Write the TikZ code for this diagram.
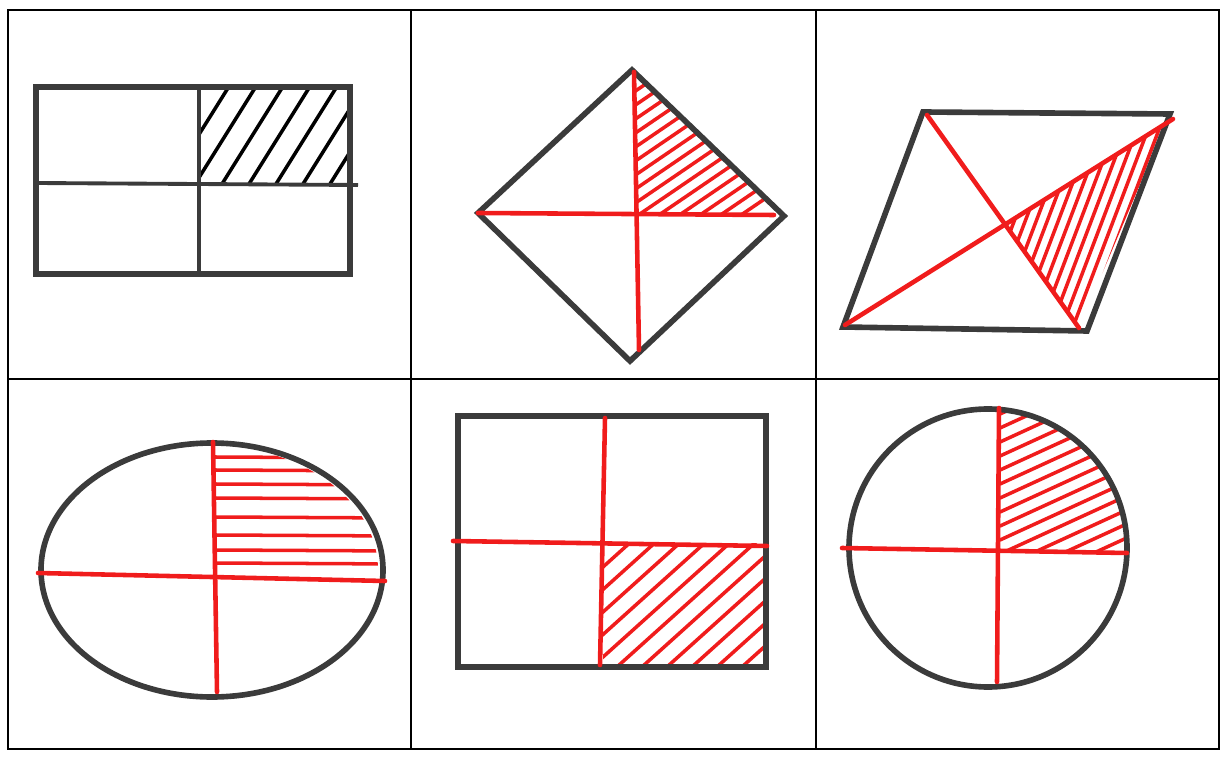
\documentclass[tikz,border=0pt]{standalone}
\usepackage{xcolor}
\definecolor{ink}{HTML}{3b3b3b}
\definecolor{pen}{HTML}{f01c1c}
\usepackage{tikz}
\usetikzlibrary{calc}

\begin{document}
\begin{tikzpicture}[
  x=0.1mm, y=-0.1mm,
  frame/.style={draw=black, line width=0.6pt},
  outline/.style={draw=ink, line width=1.6pt, line join=miter},
  divider/.style={draw=ink, line width=1.1pt},
  redline/.style={draw=pen, line width=1.3pt, line cap=round},
  hatchk/.style={draw=black, line width=1pt, line cap=round},
  hatchr/.style={draw=pen, line width=1pt, line cap=round},
]
  \useasboundingbox (0,0) rectangle (1223,759);

  % table
  \draw[frame] (8,10) rectangle (1219,749);
  \draw[frame] (411,10) -- (411,749);
  \draw[frame] (816,10) -- (816,749);
  \draw[frame] (8,379) -- (1219,379);

  % rectangle, top right quarter
  \begin{scope}
    \clip (199,87) rectangle (350,184);
    \foreach \a in {168,195,...,340}
      \draw[hatchk] (\a,184) -- ++(160,-256);
  \end{scope}
  \draw[outline] (36,87) rectangle (350,274);
  \draw[divider] (199,87) -- (199,274);
  \draw[divider] (36,183) -- (358,185);

  % diamond
  \coordinate (dt) at (632,70);
  \coordinate (dr) at (784,216);
  \coordinate (db) at (630,361);
  \coordinate (dl) at (478,213);
  \begin{scope}
    \clip (634,70) -- (dr) -- (634,216) -- cycle;
    \foreach \y in {92,106,...,290}
      \draw[hatchr] (634,\y) -- ++(220,-150);
  \end{scope}
  \draw[outline] (dt) -- (dr) -- (db) -- (dl) -- cycle;
  \draw[redline] (634,72) -- (639,350);
  \draw[redline] (dl) -- (774,215);

  % parallelogram
  \coordinate (pa) at (923,112);
  \coordinate (pb) at (1170,114);
  \coordinate (pc) at (1087,331);
  \coordinate (pd) at (843,327);
  \begin{scope}
    \clip (927,115) -- (1079,328) -- (1170,114) -- cycle;
    \clip (845,325) -- (1173,119) -- (1170,114) -- (1087,331) -- cycle;
    \foreach \a in {925,936,...,1090}
      \draw[hatchr] (\a,340) -- ++(95,-250);
  \end{scope}
  \draw[outline] (pa) -- (pb) -- (pc) -- (pd) -- cycle;
  \draw[redline] (927,115) -- (1079,328);
  \draw[redline] (845,325) -- (1173,119);

  % ellipse
  \coordinate (el) at (212,570);
  \begin{scope}
    \clip (el) ellipse [x radius=166, y radius=124];
    \clip (215,440) rectangle (400,570);
    \foreach \y in {457,470,484,498,517,535,550,563}
      \draw[hatchr] (215,\y) -- (400,\y+1);
  \end{scope}
  \draw[outline] (el) ellipse [x radius=171, y radius=127];
  \draw[redline] (213,442) -- (217,692);
  \draw[redline] (38,573) -- (385,581);

  % rectangle, bottom right quarter
  \begin{scope}
    \clip (603,543) rectangle (764,666);
    \foreach \a in {493,518,...,780}
      \draw[hatchr] (\a,666) -- ++(300,-270);
  \end{scope}
  \draw[outline] (458,416) rectangle (766,667);
  \draw[redline] (605,418) -- (600,665);
  \draw[redline] (453,541) -- (767,546);

  % circle
  \coordinate (ci) at (988,548);
  \begin{scope}
    \clip (ci) circle [radius=138];
    \clip (1000,400) rectangle (1130,551);
    \foreach \y in {414,428,...,640}
      \draw[hatchr] (1000,\y) -- ++(240,-110);
  \end{scope}
  \draw[outline] (ci) circle [radius=139];
  \draw[redline] (999,408) -- (997,682);
  \draw[redline] (842,548) -- (1127,553);
\end{tikzpicture}
\end{document}
